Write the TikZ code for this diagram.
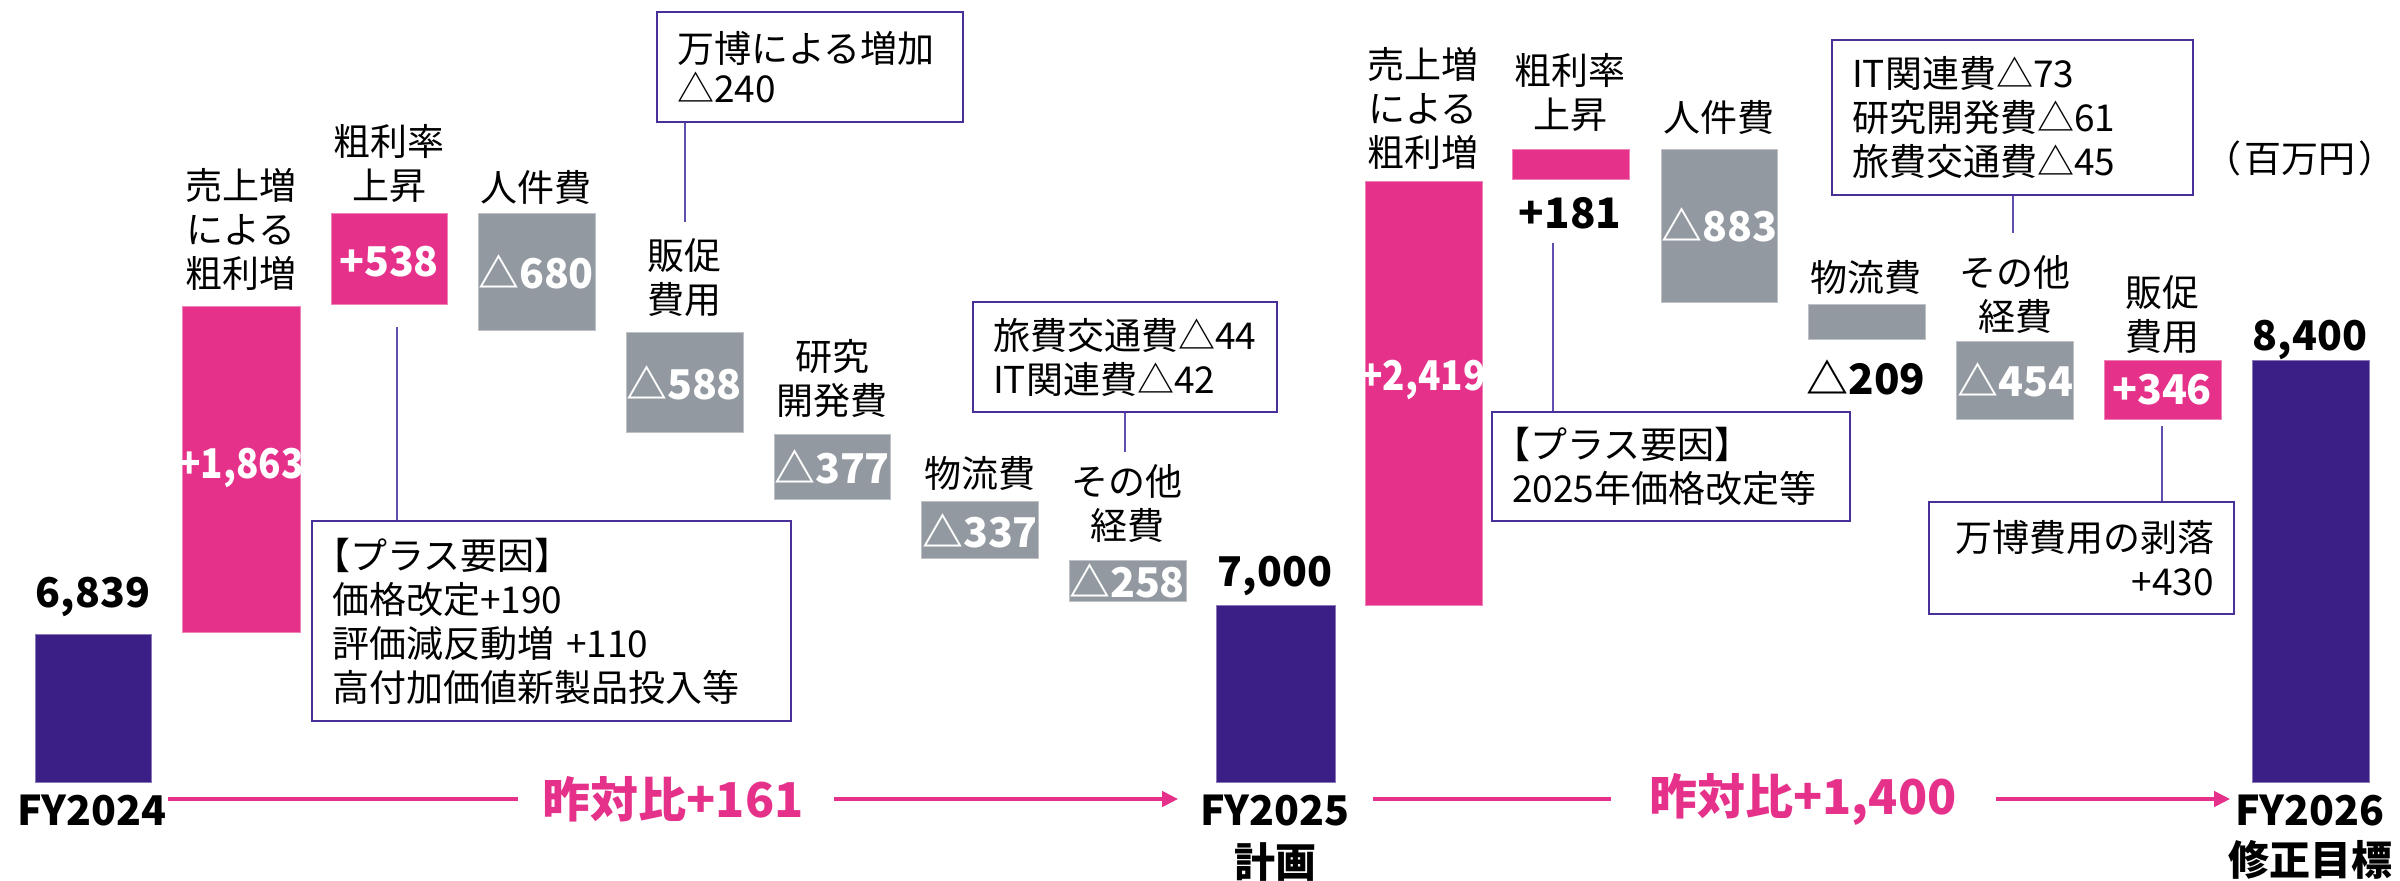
\documentclass[tikz,border=0pt]{standalone}
\usepackage{fontspec}
\setmainfont{Noto Sans CJK JP}
\usetikzlibrary{arrows.meta}
\definecolor{pinkc}{RGB}{229,49,138}
\definecolor{grayc}{RGB}{147,153,160}
\definecolor{navyc}{RGB}{59,31,135}
\definecolor{boxc}{RGB}{72,48,152}
\definecolor{linec}{RGB}{98,78,176}
\tikzset{
  pinkbar/.style={fill=pinkc, draw=pinkc!60!white, line width=0.5pt},
  graybar/.style={fill=grayc, draw=grayc!60!white, line width=0.5pt},
  navybar/.style={fill=navyc, draw=navyc!60!white, line width=0.5pt},
  lbl/.style={font=\fontsize{18.5}{22}\selectfont, align=center, inner sep=0pt},
  val/.style={font=\bfseries\fontsize{20.5}{24}\selectfont, text=white, inner sep=0pt},
  valk/.style={font=\bfseries\fontsize{21}{24}\selectfont, text=black, inner sep=0pt},
  tot/.style={font=\bfseries\fontsize{20.5}{24}\selectfont, text=black, inner sep=0pt},
  fylbl/.style={font=\bfseries\fontsize{20.5}{24}\selectfont, text=black, inner sep=0pt},
  yoytxt/.style={font=\bfseries\fontsize{24}{28}\selectfont, text=pinkc, inner sep=0pt},
  yoy/.style={draw=pinkc, line width=2pt},
  yoyarrow/.style={yoy, -{Triangle[length=8pt,width=7.5pt]}},
  callbox/.style={draw=boxc, line width=1pt, fill=white, inner xsep=10pt, inner ysep=0pt,
    font=\fontsize{18.5}{22}\selectfont},
  callline/.style={draw=linec, line width=0.9pt},
}
\begin{document}
\begin{tikzpicture}[x=0.5pt,y=-0.5pt]
\useasboundingbox (0,0) rectangle (2400,880);

% ---------- bars, group 1 ----------
\path[navybar] (35,634) rectangle (151,782);
\path[pinkbar] (182,306) rectangle (300,632);
\path[pinkbar] (331,213) rectangle (447,304);
\path[graybar] (478,213) rectangle (595,330);
\path[graybar] (626,332) rectangle (743,432);
\path[graybar] (774,434) rectangle (890,499);
\path[graybar] (921,501) rectangle (1038,558);
\path[graybar] (1069,560) rectangle (1186,601);
\path[navybar] (1216,605) rectangle (1335,782);
% ---------- bars, group 2 ----------
\path[pinkbar] (1365,181) rectangle (1482,605);
\path[pinkbar] (1512,149) rectangle (1629,179);
\path[graybar] (1661,149) rectangle (1777,302);
\path[graybar] (1808,304) rectangle (1925,339);
\path[graybar] (1956,341) rectangle (2073,419);
\path[pinkbar] (2104,360) rectangle (2221,419);
\path[navybar] (2252,360) rectangle (2369,782);

% ---------- labels above bars ----------
\node[lbl] (l1) at (241,229) {売上増\\による\\粗利増};
\node[lbl] (l2) at (389,163) {粗利率\\上昇};
\node[lbl] (l3) at (536,187) {人件費};
\node[lbl] (l4) at (684,278) {販促\\費用};
\node[lbl] (l5) at (832,379) {研究\\開発費};
\node[lbl] (l6) at (980,473) {物流費};
\node[lbl] (l7) at (1127,504) {その他\\経費};
\node[lbl] (m1) at (1423,108) {売上増\\による\\粗利増};
\node[lbl] (m2) at (1570,92) {粗利率\\上昇};
\node[lbl] (m3) at (1719,117) {人件費};
\node[lbl] (m4) at (1866,277) {物流費};
\node[lbl] (m5) at (2015,295) {その他\\経費};
\node[lbl] (m6) at (2162,315) {販促\\費用};
\node[lbl] (unit) at (2300,158) {（\hspace{1.5pt}百万円\hspace{1.5pt}）};

% ---------- values ----------
\node[val] (v1) at (241,468) {\scalebox{0.9}[1]{+1,863}};
\node[val] (v2) at (389,262) {+538};
\node[val] (v3) at (536,272) {△680};
\node[val] (v4) at (684,383) {△588};
\node[val] (v5) at (832,467) {△377};
\node[val] (v6) at (980,531) {△337};
\node[val] (v7) at (1127,581) {△258};
\node[val] (w1) at (1423,380) {\scalebox{0.9}[1]{+2,419}};
\node[valk] (w2) at (1570,213) {+181};
\node[val] (w3) at (1719,225) {△883};
\node[valk] (w4) at (1866,377) {△209};
\node[val] (w5) at (2015,380) {△454};
\node[val] (w6) at (2162,390) {+346};
\node[tot] (t1) at (93,597) {6,839};
\node[tot] (t2) at (1275,576) {7,000};
\node[tot] (t3) at (2310,340) {8,400};

% ---------- axis labels ----------
\node[fylbl] (fy24) at (92,810) {FY2024};
\node[fylbl] (fy25) at (1275,810) {FY2025};
\node[fylbl] (fy25b) at (1275,862) {計画};
\node[fylbl] (fy26) at (2310,810) {FY2026};
\node[fylbl] (fy26b) at (2310,860) {修正目標};
\node[yoytxt] (yoy1) at (673,799) {昨対比+161};
\node[yoytxt] (yoy2) at (1803,799) {昨対比+1,400};

\draw[yoy, shorten <=0.5pt, shorten >=12pt] ([yshift=5.5pt]fy24.east) -- (yoy1.west);
\draw[yoyarrow, shorten <=15pt, shorten >=11pt] (yoy1.east) -- ([yshift=5.5pt]fy25.west);
\draw[yoy, shorten <=11.5pt, shorten >=19pt] ([yshift=5.5pt]fy25.east) -- (yoy2.west);
\draw[yoyarrow, shorten <=19.5pt, shorten >=2.5pt] (yoy2.east) -- ([yshift=5.5pt]fy26.west);

% ---------- callout boxes ----------
\node[callbox, minimum width=239.5pt, minimum height=100pt, text width=219.5pt, align=left]
  (box1) at (551.5,621) {\kern-.5em【プラス要因】\\価格改定+190\\評価減反動増 +110\\高付加価値新製品投入等};
\node[callbox, minimum width=153pt, minimum height=55pt, text width=133pt, align=left,
  font=\fontsize{18.5}{20}\selectfont]
  (box2) at (810,67) {万博による増加\\△240};
\node[callbox, minimum width=152pt, minimum height=55pt, text width=132pt, align=left]
  (box3) at (1125,357) {旅費交通費△44\\IT関連費△42};
\node[callbox, minimum width=179pt, minimum height=54.5pt, text width=159pt, align=left]
  (box4) at (1671,466.5) {\kern-.5em【プラス要因】\\2025年価格改定等};
\node[callbox, minimum width=180.5pt, minimum height=77.5pt, text width=160.5pt, align=left]
  (box5) at (2012.5,117.5) {IT関連費△73\\研究開発費△61\\旅費交通費△45};
\node[callbox, minimum width=152.5pt, minimum height=56pt, text width=132.5pt, align=right]
  (box6) at (2081.5,558) {万博費用の剥落\\+430};

% ---------- callout connectors ----------
\coordinate (c1top) at (397,327);
\coordinate (c2bot) at (685,222);
\coordinate (c3bot) at (1125,452);
\coordinate (c4top) at (1553,243);
\coordinate (c5bot) at (2013,233);
\coordinate (c6top) at (2162,426);
\draw[callline] (c1top) -- (c1top |- box1.north);
\draw[callline] (box2.south -| c2bot) -- (c2bot);
\draw[callline] (box3.south -| c3bot) -- (c3bot);
\draw[callline] (c4top) -- (c4top |- box4.north);
\draw[callline] (box5.south -| c5bot) -- (c5bot);
\draw[callline] (c6top) -- (c6top |- box6.north);
\end{tikzpicture}
\end{document}
